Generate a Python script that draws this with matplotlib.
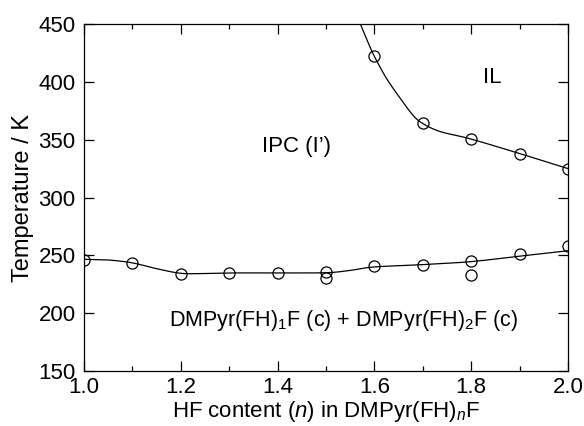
import numpy as np
import matplotlib
matplotlib.use("Agg")
import matplotlib.pyplot as plt
from matplotlib.ticker import MultipleLocator, FormatStrFormatter

plt.rcParams['font.family'] = ['Liberation Sans', 'DejaVu Sans']
plt.rcParams['mathtext.fontset'] = 'custom'
plt.rcParams['mathtext.rm'] = 'Liberation Sans'
plt.rcParams['mathtext.it'] = 'Liberation Sans:italic'

# measured transition points
n_low = [1.0, 1.1, 1.2, 1.3, 1.4, 1.5, 1.5, 1.6, 1.7, 1.8, 1.8, 1.9, 2.0]
T_low = [246, 243, 234, 235, 235, 236, 230, 241, 242, 245, 233, 251, 258]
n_high = [1.6, 1.7, 1.8, 1.9, 2.0]
T_high = [422, 364, 351, 338, 325]

# guide-to-the-eye curves
curve_low_n = [1.0, 1.05, 1.1, 1.15, 1.2, 1.25, 1.3, 1.4, 1.5, 1.55, 1.6, 1.7, 1.8, 1.9, 2.0]
curve_low_T = [246.6, 246, 243.5, 238.5, 234.5, 234.3, 234.8, 234.8, 235, 237, 240, 242, 244.6, 249.3, 254]
curve_high_n = [1.571, 1.587, 1.6, 1.625, 1.653, 1.68, 1.7, 1.736, 1.8, 1.9, 2.0]
curve_high_T = [450, 434, 422, 403, 386, 371, 364, 357, 350.5, 338, 325]


def smooth(x, y, k=12):
    # Catmull-Rom through the read-off points
    p = np.column_stack([x, y]).astype(float)
    p = np.vstack([2 * p[0] - p[1], p, 2 * p[-1] - p[-2]])
    out = []
    t = np.linspace(0, 1, k, endpoint=False)[:, None]
    for i in range(1, len(p) - 2):
        p0, p1, p2, p3 = p[i - 1], p[i], p[i + 1], p[i + 2]
        seg = 0.5 * ((2 * p1) + (-p0 + p2) * t + (2 * p0 - 5 * p1 + 4 * p2 - p3) * t ** 2
                     + (-p0 + 3 * p1 - 3 * p2 + p3) * t ** 3)
        out.append(seg)
    out.append(p[-2][None, :])
    out = np.vstack(out)
    return out[:, 0], out[:, 1]


fig = plt.figure(figsize=(5.84, 4.26), dpi=100)
ax = fig.add_axes([0.1438, 0.129, 0.8288, 0.8147])

ax.plot(*smooth(curve_low_n, curve_low_T), color='black', lw=0.9)
ax.plot(*smooth(curve_high_n, curve_high_T), color='black', lw=0.9)
ax.plot(n_low, T_low, 'o', mfc='none', mec='black', ms=8, mew=0.9)
ax.plot(n_high, T_high, 'o', mfc='none', mec='black', ms=8, mew=0.9)

ax.set_xlim(1.0, 2.0)
ax.set_ylim(150, 450)
ax.xaxis.set_major_locator(MultipleLocator(0.2))
ax.xaxis.set_minor_locator(MultipleLocator(0.1))
ax.yaxis.set_major_locator(MultipleLocator(50))
ax.xaxis.set_major_formatter(FormatStrFormatter('%.1f'))
ax.tick_params(which='both', direction='in', top=True, right=True, labelsize=16)
ax.tick_params(which='major', length=7, width=0.9)
ax.tick_params(which='minor', length=3.5, width=0.9)
ax.tick_params(axis='x', pad=4)
ax.tick_params(axis='y', pad=6)
for s in ax.spines.values():
    s.set_linewidth(0.9)

ax.set_xlabel('HF content ($n$) in DMPyr(FH)$_n$F', fontsize=16, labelpad=1)
ax.set_ylabel('Temperature / K', fontsize=17, labelpad=3)

ax.text(1.44, 344, 'IPC (I\u2019)', fontsize=16, ha='center', va='center')
ax.text(1.843, 404, 'IL', fontsize=16, ha='center', va='center')
ax.text(1.537, 194, 'DMPyr(FH)$_1$F (c) + DMPyr(FH)$_2$F (c)', fontsize=15.5,
        ha='center', va='center')

fig.savefig('out.png', dpi=100)
